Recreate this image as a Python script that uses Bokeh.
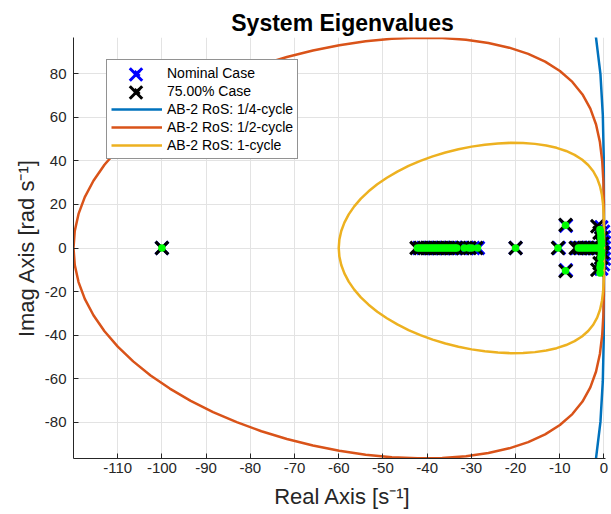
from bokeh.plotting import figure
from bokeh.models import Legend, LegendItem, FixedTicker, Range1d
from bokeh.embed import file_html
from bokeh.resources import INLINE

# ---------------- data ----------------
# AB-2 region-of-stability boundary for a unit step (lambda*h), upper half,
# sampled every 5 degrees of the unit-circle angle (0 .. 180 deg)
ab2_unit_re = [0.0, -0.0000145, -0.000225, -0.001105, -0.003336, -0.007698, -0.014946,
               -0.025727, -0.040517, -0.059601, -0.083083, -0.110900, -0.142857, -0.178648,
               -0.217888, -0.260136, -0.304920, -0.351706, -0.400000, -0.449269, -0.498991,
               -0.548651, -0.597744, -0.645785, -0.692308, -0.736869, -0.779042, -0.818445,
               -0.854714, -0.887518, -0.916560, -0.941585, -0.962366, -0.978722, -0.990509,
               -0.997622, -1.0]
ab2_unit_im = [0.0, 0.086990, 0.172358, 0.254624, 0.332564, 0.405260, 0.472111, 0.532779,
               0.587128, 0.635166, 0.676962, 0.712633, 0.742307, 0.766098, 0.784105, 0.796419,
               0.803120, 0.804285, 0.800000, 0.790355, 0.775456, 0.755429, 0.730421, 0.700603,
               0.666173, 0.627358, 0.584408, 0.537603, 0.487242, 0.433660, 0.377204, 0.318241,
               0.257176, 0.194394, 0.130319, 0.065377, 0.0]

ros_labels = ["AB-2 RoS: 1/4-cycle", "AB-2 RoS: 1/2-cycle", "AB-2 RoS: 1-cycle"]
ros_step_rate = [240.0, 120.0, 60.0]   # 1/h  [s^-1]  (60 Hz cycle)

# Nominal case eigenvalues
nominal_re = [-100.0,
              -41.8, -40.9, -40.0, -39.1, -38.2, -37.3, -36.4, -35.5, -34.6, -33.7, -32.4, -31.0, -29.6, -28.5,
              -20.0, -10.2, -8.6, -8.6,
              -6.1, -5.2, -4.3, -3.5, -2.7, -2.0, -1.4,
              0.0, 0.0, 0.0, 0.0, -0.2, -0.2, -0.6, -0.6, -0.1]
nominal_im = [0.0,
              0.0, 0.0, 0.0, 0.0, 0.0, 0.0, 0.0, 0.0, 0.0, 0.0, 0.0, 0.0, 0.0, 0.0,
              0.0, 0.0, 10.2, -10.2,
              0.0, 0.0, 0.0, 0.0, 0.0, 0.0, 0.0,
              2.5, -2.5, 5.0, -5.0, 7.5, -7.5, 9.5, -9.5, 0.0]

# 75.00 % case eigenvalues
case75_re = [-100.0,
             -42.4, -41.5, -40.6, -39.7, -38.8, -37.9, -37.0, -36.1, -35.2, -34.3, -33.4, -31.9, -30.4, -28.9,
             -20.0, -10.4, -8.7, -8.7,
             -6.4, -5.5, -4.6, -3.7, -2.9, -2.2, -1.5,
             -1.5, -1.5, -1.0, -1.0, -0.6, -0.6, -0.4, -0.4]
case75_im = [0.0,
             0.0, 0.0, 0.0, 0.0, 0.0, 0.0, 0.0, 0.0, 0.0, 0.0, 0.0, 0.0, 0.0, 0.0,
             0.0, 0.0, 10.6, -10.6,
             0.0, 0.0, 0.0, 0.0, 0.0, 0.0, 0.0,
             10.0, -10.0, 7.0, -7.0, 4.5, -4.5, 2.0, -2.0]

# additional case (green dots, not in legend)
extra_re = [-100.0,
            -42.2, -41.7, -41.2, -40.7, -40.2, -39.7, -39.2, -38.7, -38.2, -37.7, -37.2, -36.7,
            -36.2, -35.7, -35.2, -34.7, -34.2, -33.7, -33.3, -31.6, -30.6, -29.9, -28.6,
            -20.0, -10.4, -8.7, -8.7,
            -5.8, -5.2, -4.6, -4.0, -3.4, -2.8, -2.2, -1.6, -1.0,
            -0.6, -0.6, -0.6, -0.6, -0.7, -0.7, -0.7, -0.8, -0.8, -0.9, -0.9, -0.9]
extra_im = [0.0,
            0.0, 0.0, 0.0, 0.0, 0.0, 0.0, 0.0, 0.0, 0.0, 0.0, 0.0, 0.0,
            0.0, 0.0, 0.0, 0.0, 0.0, 0.0, 0.0, 0.0, 0.0, 0.0, 0.0,
            0.0, 0.0, 10.4, -10.4,
            0.0, 0.0, 0.0, 0.0, 0.0, 0.0, 0.0, 0.0, 0.0,
            1.5, -1.5, 3.0, -3.0, 4.5, -4.5, 6.0, 7.5, -7.5, 8.5, -9.0, -11.5]

x_ticks = [-110, -100, -90, -80, -70, -60, -50, -40, -30, -20, -10, 0]
y_ticks = [-80, -60, -40, -20, 0, 20, 40, 60, 80]

# ---------------- styles ----------------
FONT = "Liberation Sans"
TXT = "#262626"
ros_colors = ["#0072BD", "#D95319", "#EDB120"]

p = figure(width=611, height=514, output_backend="svg", toolbar_location=None,
           x_range=Range1d(-120, 1.7), y_range=Range1d(-96.6, 96.6),
           min_border_left=73, min_border_right=0, min_border_top=37, min_border_bottom=56,
           title="System Eigenvalues")
p.outline_line_color = None
p.background_fill_color = "white"
p.border_fill_color = "white"

p.title.align = "center"
p.title.text_font = FONT
p.title.text_font_size = "23px"
p.title.text_font_style = "bold"
p.title.text_color = "#000000"
p.title.standoff = 4

for ax in (p.xaxis[0], p.yaxis[0]):
    ax.axis_line_color = TXT
    ax.axis_line_width = 1
    ax.major_tick_line_color = TXT
    ax.major_tick_in = 5
    ax.major_tick_out = 0
    ax.minor_tick_line_color = None
    ax.major_label_text_font = FONT
    ax.major_label_text_font_size = "15px"
    ax.major_label_text_color = TXT
    ax.axis_label_text_font = FONT
    ax.axis_label_text_font_size = "22px"
    ax.axis_label_text_font_style = "normal"
    ax.axis_label_text_color = TXT

p.xaxis.ticker = FixedTicker(ticks=x_ticks)
p.yaxis.ticker = FixedTicker(ticks=y_ticks)
p.xaxis.major_label_overrides = {t: str(t) for t in x_ticks}
p.yaxis.major_label_overrides = {t: str(t) for t in y_ticks}
p.xaxis.bounds = (-120, 0.3)
p.xaxis.major_label_standoff = 4
p.yaxis.major_label_standoff = 7
p.xaxis.axis_label_standoff = 8
p.yaxis.axis_label_standoff = 3
p.xaxis.axis_label = "Real Axis [s\u207b\u00b9]"
p.yaxis.axis_label = "Imag Axis [rad s\u207b\u00b9]"

p.xgrid.ticker = FixedTicker(ticks=x_ticks)
p.ygrid.ticker = FixedTicker(ticks=y_ticks)
for g in (p.xgrid[0], p.ygrid[0]):
    g.grid_line_color = "#e3e3e3"
    g.grid_line_width = 1

# eigenvalue markers
r_nom = p.scatter(nominal_re, nominal_im, marker="x", size=18, line_width=3,
                  line_color="#0000FF")
r_75 = p.scatter(case75_re, case75_im, marker="x", size=18, line_width=3,
                 line_color="#000000")

# stability-region boundaries (closed curves through the origin)
ros_renderers = []
for rate, col in zip(ros_step_rate, ros_colors):
    xs = [v * rate for v in ab2_unit_re] + [v * rate for v in reversed(ab2_unit_re[:-1])]
    ys = [v * rate for v in ab2_unit_im] + [-v * rate for v in reversed(ab2_unit_im[:-1])]
    ros_renderers.append(p.line(xs, ys, line_color=col, line_width=2.5, line_join="round"))

p.scatter(extra_re, extra_im, marker="circle", size=7.5, fill_color="#00FF00",
          line_color=None)

# ---------------- legend ----------------
LEG_X, LEG_Y, LEG_PAD, ROW_H, GLYPH_W = 33, 299, 4, 18, 51
legend = Legend(items=[
    LegendItem(label="Nominal Case", renderers=[r_nom]),
    LegendItem(label="75.00% Case", renderers=[r_75]),
    LegendItem(label=ros_labels[0], renderers=[ros_renderers[0]]),
    LegendItem(label=ros_labels[1], renderers=[ros_renderers[1]]),
    LegendItem(label=ros_labels[2], renderers=[ros_renderers[2]]),
], location=(LEG_X, LEG_Y))
legend.border_line_color = TXT
legend.border_line_width = 1
legend.background_fill_color = "white"
legend.background_fill_alpha = 1.0
legend.padding = LEG_PAD
legend.margin = 0
legend.spacing = 0
legend.glyph_width = GLYPH_W
legend.glyph_height = ROW_H
legend.label_height = ROW_H
legend.label_standoff = 5
legend.label_text_font = FONT
legend.label_text_font_size = "14px"
legend.label_text_color = "#000000"
p.add_layout(legend)

# Bokeh draws legend markers at 0.4 x the glyph box: overlay one-item,
# frameless legends with a tall glyph box so the X symbols match the plot's
BIG_H = 44
leg_h = 5 * ROW_H + 2 * LEG_PAD
for i, r in enumerate([r_nom, r_75]):
    cy = LEG_Y + leg_h - LEG_PAD - ROW_H / 2 - i * ROW_H
    big = Legend(items=[LegendItem(label=" ", renderers=[r])],
                 location=(LEG_X + LEG_PAD, cy - BIG_H / 2))
    big.border_line_color = None
    big.background_fill_alpha = 0.0
    big.padding = 0
    big.margin = 0
    big.spacing = 0
    big.glyph_width = GLYPH_W
    big.glyph_height = BIG_H
    big.label_height = BIG_H
    big.label_standoff = 0
    big.label_text_font_size = "1px"
    p.add_layout(big)

open("out.html", "w").write(file_html(p, INLINE))
